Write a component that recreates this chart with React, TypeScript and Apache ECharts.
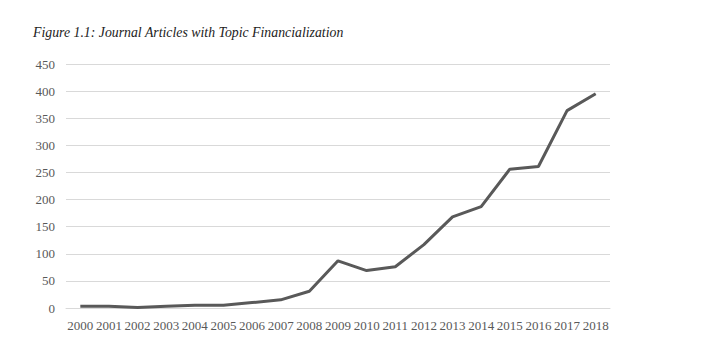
import React, { useEffect, useRef } from "react";
import * as echarts from "echarts";

const years = ["2000","2001","2002","2003","2004","2005","2006","2007","2008","2009","2010","2011","2012","2013","2014","2015","2016","2017","2018"];
const articles = [3, 3, 1, 3, 5, 5, 10, 15, 31, 87, 69, 76, 117, 168, 187, 256, 261, 364, 395];
const yTicks = { min: 0, max: 450, interval: 50 };
const titleText = "Figure 1.1: Journal Articles with Topic Financialization";
const serif = "'Liberation Serif', 'Times New Roman', serif";

export default function App() {
  const ref = useRef<HTMLDivElement>(null);
  useEffect(() => {
    if (!ref.current) return;
    const chart = echarts.init(ref.current, undefined, { renderer: "svg" });
    chart.setOption({
      animation: false,
      backgroundColor: "#ffffff",
      title: {
        text: titleText,
        left: 20,
        top: 12,
        textStyle: {
          fontFamily: serif,
          fontStyle: "italic",
          fontWeight: "normal",
          fontSize: 13.8,
          color: "#222222",
        },
      },
      grid: { left: 58, right: 89, top: 56, bottom: 53 },
      xAxis: {
        type: "category",
        data: years,
        boundaryGap: true,
        axisLine: { show: true, lineStyle: { color: "#d9d9d9", width: 1 } },
        axisTick: { show: false },
        axisLabel: {
          interval: 0,
          margin: 11,
          fontFamily: serif,
          fontSize: 13,
          color: "#595959",
        },
      },
      yAxis: {
        type: "value",
        min: yTicks.min,
        max: yTicks.max,
        interval: yTicks.interval,
        axisLine: { show: false },
        axisTick: { show: false },
        splitLine: { lineStyle: { color: "#d9d9d9", width: 1 } },
        axisLabel: {
          margin: 11,
          fontFamily: serif,
          fontSize: 13,
          color: "#595959",
        },
      },
      series: [
        {
          type: "line",
          data: articles,
          showSymbol: false,
          symbol: "none",
          lineStyle: { color: "#595959", width: 3 },
        },
      ],
    });
    return () => chart.dispose();
  }, []);
  return <div ref={ref} style={{ width: 691, height: 353 }} />;
}
